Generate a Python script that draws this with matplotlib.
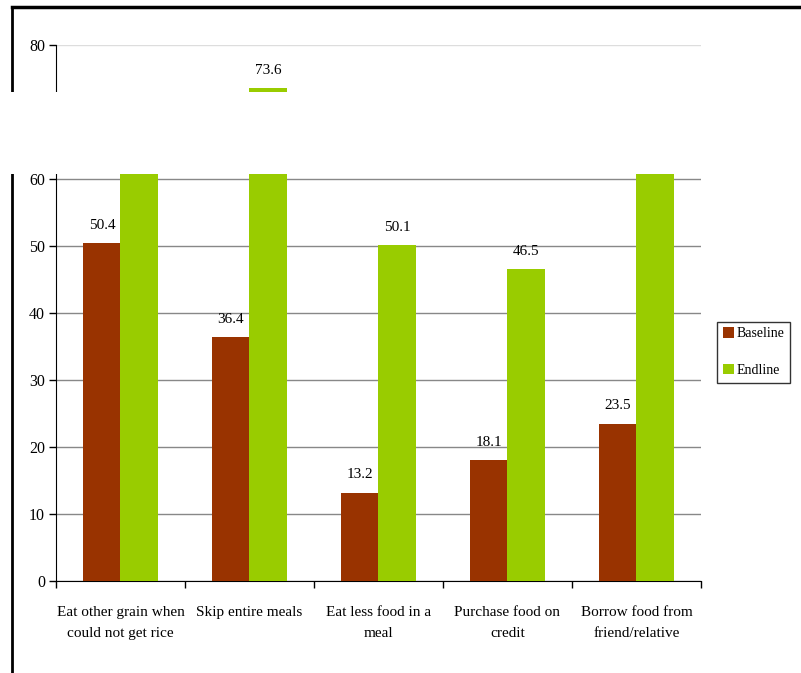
import matplotlib.pyplot as plt
import numpy as np
from matplotlib.patches import Rectangle
from matplotlib.lines import Line2D

categories = [
    "Eat other grain when\ncould not get rice",
    "Skip entire meals",
    "Eat less food in a\nmeal",
    "Purchase food on\ncredit",
    "Borrow food from\nfriend/relative",
]
baseline = [50.4, 36.4, 13.2, 18.1, 23.5]
endline = [64.8, 73.6, 50.1, 46.5, 65.9]

BASE_COLOR = "#993300"
END_COLOR = "#99CC00"

plt.rcParams["font.family"] = ["Liberation Serif", "DejaVu Serif"]

W, H = 801, 673
fig = plt.figure(figsize=(W / 100, H / 100), dpi=100)
ax = fig.add_axes([56 / W, 1 - 581 / H, (701 - 56) / W, (581 - 45) / H])

x = np.arange(len(categories))
bw = 0.287
ax.bar(x - bw / 2, baseline, bw, color=BASE_COLOR, label="Baseline", zorder=3)
ax.bar(x + bw / 2, endline, bw, color=END_COLOR, label="Endline", zorder=3)

for i in range(len(categories)):
    ax.annotate(f"{baseline[i]:.1f}", (x[i] - bw / 2, baseline[i]), xytext=(0, 8),
                textcoords="offset points", ha="center", va="bottom", fontsize=11)
    ax.annotate(f"{endline[i]:.1f}", (x[i] + bw / 2, endline[i]), xytext=(0, 8),
                textcoords="offset points", ha="center", va="bottom", fontsize=11)

ax.set_xlim(-0.5, len(categories) - 0.5)
ax.set_ylim(0, 80)
ax.set_yticks([0, 10, 20, 30, 40, 50, 60, 70, 80])
ax.yaxis.grid(True, color="#888888", linewidth=1, zorder=0)
ax.get_ygridlines()[-1].set_color("#dddddd")
ax.set_axisbelow(True)

ax.set_xticks(x)
ax.set_xticklabels(categories, fontsize=11, linespacing=1.8)
ax.set_xticks(np.arange(-0.5, len(categories)), minor=True)
ax.tick_params(axis="x", which="major", length=0, pad=18)
ax.tick_params(axis="x", which="minor", length=5, width=1, direction="out")
ax.tick_params(axis="y", length=5, width=1, direction="out", labelsize=11.5, pad=3)

for s in ["top", "right"]:
    ax.spines[s].set_visible(False)
ax.spines["left"].set_color("black")
ax.spines["bottom"].set_color("black")

ax.legend(loc="center left", bbox_to_anchor=(717 / W, 1 - 352 / H),
          bbox_transform=fig.transFigure, borderaxespad=0, frameon=True,
          fancybox=False, edgecolor="black", fontsize=10, handlelength=0.8,
          handleheight=0.8, handletextpad=0.2, labelspacing=1.7, borderpad=0.4)

# outer frame of the slide
fig.add_artist(Line2D([12 / W, 12 / W], [0, 1 - 7 / H], color="black", lw=2,
                      transform=fig.transFigure))
fig.add_artist(Line2D([12 / W, 1], [1 - 7 / H, 1 - 7 / H], color="black", lw=2.5,
                      transform=fig.transFigure))

# missing band across the picture
fig.add_artist(Rectangle((0, 1 - 174 / H), 1, (174 - 92) / H, facecolor="white",
                         edgecolor="none", transform=fig.transFigure, zorder=10))

fig.savefig("out.png", dpi=100)
